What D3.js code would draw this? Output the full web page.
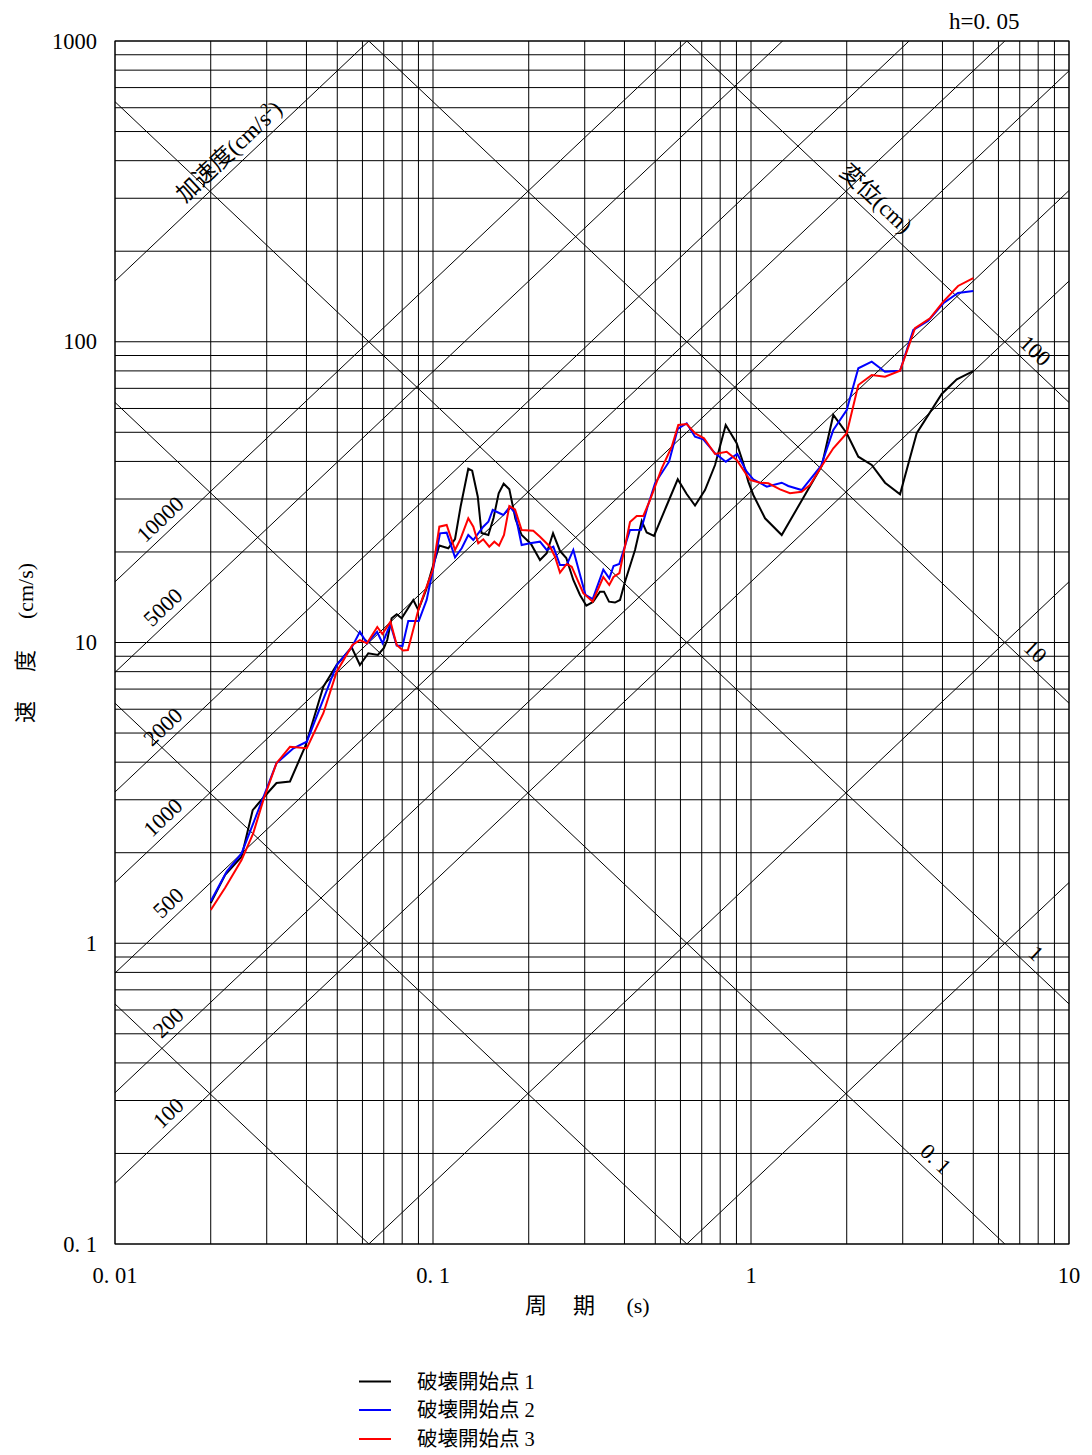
<!DOCTYPE html>
<html><head><meta charset="utf-8">
<script src="https://cdn.jsdelivr.net/npm/d3@7"></script>
<style>
html,body{margin:0;padding:0;background:#fff;}
svg{display:block;}
</style></head>
<body>
<svg id="chart" width="1092" height="1455"></svg>
<script>
// ---------------- data ----------------
const periodsBlack = [0.0200,0.0222,0.0250,0.0271,0.0289,0.0322,0.0355,0.0397,0.0452,0.0498,0.0555,0.0589,0.0626,0.0671,0.0701,0.0718,0.0741,0.0769,0.0797,0.0867,0.0899,0.0951,0.0991,0.1047,0.1117,0.1173,0.1221,0.1291,0.1328,0.1383,0.1421,0.1493,0.1550,0.1609,0.1668,0.1738,0.1817,0.1900,0.2033,0.2170,0.2278,0.2385,0.2508,0.2625,0.2762,0.2899,0.3035,0.3185,0.3351,0.3449,0.3577,0.3735,0.3873,0.4016,0.4318,0.4533,0.4699,0.4955,0.5406,0.5883,0.6277,0.6668,0.7167,0.7707,0.8327,0.9016,0.9458,0.9806,1.017,1.107,1.249,1.669,1.815,2.000,2.175,2.397,2.639,2.942,3.320,3.979,4.437,5.0];
const velocityBlack = [1.36,1.69,1.94,2.77,3.00,3.41,3.45,4.53,7.13,8.42,9.63,8.42,9.21,9.09,9.59,10.19,12.04,12.41,12.04,13.85,12.83,14.95,17.42,21.02,20.57,22.08,28.28,37.81,37.26,30.53,23.12,22.77,25.94,31.34,33.73,32.33,25.74,22.77,21.26,18.80,19.80,23.07,20.15,19.10,16.14,14.39,13.25,13.64,14.76,14.76,13.67,13.58,13.85,15.93,20.31,25.35,23.21,22.60,28.22,34.9,31.17,28.54,32.14,38.92,52.88,45.96,39.44,34.25,30.94,25.88,22.77,38.63,57.09,49.62,41.48,38.92,33.99,31.10,49.62,67.04,75.03,79.92];

const periodsBlue = [0.0200,0.02245,0.0250,0.0296,0.0322,0.0364,0.0401,0.0498,0.0555,0.0589,0.0620,0.0667,0.0694,0.0734,0.0769,0.0802,0.0836,0.0902,0.0955,0.1002,0.1052,0.1104,0.1173,0.1231,0.1291,0.1339,0.1439,0.1493,0.1541,0.1664,0.1746,0.1811,0.1900,0.2018,0.2170,0.2278,0.2390,0.2508,0.2633,0.2762,0.3017,0.3178,0.3432,0.3584,0.3697,0.3853,0.4164,0.4510,0.4726,0.4991,0.5524,0.5883,0.6277,0.6668,0.7079,0.7707,0.8333,0.9056,0.9694,1.017,1.121,1.249,1.310,1.443,1.660,1.815,2.000,2.175,2.397,2.639,2.942,3.239,3.610,4.025,4.478,5.0];
const velocityBlue = [1.38,1.73,1.99,3.15,3.97,4.45,4.68,8.42,9.63,10.86,9.94,10.86,9.94,11.52,9.77,9.74,11.79,11.79,13.85,17.65,23.07,23.18,19.20,20.57,22.77,21.92,24.27,25.21,27.58,26.54,28.28,26.95,21.10,21.37,21.64,20.31,20.82,18.10,18.10,20.31,14.39,13.95,17.46,16.35,17.96,18.24,23.66,23.72,28.22,33.83,39.92,51.28,53.57,48.34,47.39,42.57,39.92,42.35,36.98,34.88,32.96,33.99,33.14,32.14,38.63,50.89,59.31,81.60,85.84,79.50,80.11,109.4,117.5,134.3,145.3,147.5];

const periodsRed = [0.0200,0.0222,0.0250,0.0272,0.0293,0.0322,0.0355,0.0401,0.0452,0.0498,0.0558,0.0589,0.0620,0.0668,0.0693,0.0735,0.0769,0.0805,0.0834,0.0899,0.0955,0.0998,0.1047,0.1104,0.1173,0.1216,0.1291,0.1339,0.1388,0.1439,0.1503,0.1559,0.1613,0.1672,0.1738,0.1811,0.1900,0.2067,0.2170,0.2334,0.2419,0.2508,0.2633,0.2730,0.2969,0.3178,0.3432,0.3584,0.3695,0.3857,0.4164,0.4372,0.4585,0.4813,0.5240,0.5633,0.5908,0.6277,0.6668,0.7116,0.7707,0.8388,0.9016,0.9929,1.067,1.134,1.234,1.326,1.443,1.532,1.669,1.815,2.000,2.175,2.397,2.639,2.942,3.279,3.655,4.025,4.478,5.0];
const velocityRed = [1.29,1.53,1.89,2.32,3.00,3.97,4.50,4.45,5.82,8.00,9.81,10.19,9.94,11.26,10.67,11.73,9.81,9.41,9.44,12.83,15.33,17.42,24.27,24.59,20.31,21.92,25.88,24.27,21.37,22.03,20.82,21.64,20.99,22.77,28.43,27.72,23.66,23.53,22.48,20.82,19.29,17.06,18.24,17.87,14.58,13.67,16.51,15.53,16.51,17.02,25.16,26.34,26.34,29.77,37.95,44.78,52.88,53.29,49.62,47.76,42.35,43.09,40.44,34.70,33.99,33.83,32.31,31.34,31.72,33.39,38.63,44.23,49.62,71.82,77.54,76.54,80.11,110.9,119.7,135.9,153.3,162.9];

const seriesNames = ["破壊開始点 1","破壊開始点 2","破壊開始点 3"];
const seriesColors = ["#000000","#0000ff","#ff0000"];

const accelLineValues = [1,10,100,200,500,1000,2000,5000,10000,100000];   // cm/s^2
const dispLineValues = [0.001,0.01,0.1,1,10,100];                         // cm
const accelLabelValues = [10000,5000,2000,1000,500,200,100];
const accelLabelTexts = ["10000","5000","2000","1000","500","200","100"];
const dispLabelValues = [100,10,1,0.1];
const dispLabelTexts = ["100","10","1","0. 1"];

const xTickValues = [0.01,0.1,1,10];
const xTickLabels = ["0. 01","0. 1","1","10"];
const yTickValues = [0.1,1,10,100,1000];
const yTickLabels = ["0. 1","1","10","100","1000"];
const dampingLabel = "h=0. 05";

// ---------------- layout ----------------
const M = {left:115, right:1069, top:41, bottom:1244};
const accelLabelAt = [0.0149,0.0152,0.0152,0.0152,0.0158,0.0158,0.0158];  // period where label sits
const dispLabelAt = [7.29,7.29,7.34,3.55];
const FONT = "'Liberation Serif','Noto Sans CJK JP',serif";
const CJK = "'Noto Sans CJK JP','Liberation Serif',sans-serif";

const x = d3.scaleLog().domain([0.01,10]).range([M.left,M.right]);
const y = d3.scaleLog().domain([0.1,1000]).range([M.bottom,M.top]);
const TWO_PI = 2*Math.PI;

const svg = d3.select("#chart");
svg.append("rect").attr("width",1092).attr("height",1455).attr("fill","#fff");
svg.append("defs").append("clipPath").attr("id","plotclip")
  .append("rect").attr("x",M.left).attr("y",M.top)
  .attr("width",M.right-M.left).attr("height",M.bottom-M.top);

function logGrid(lo, hi){
  const out=[];
  for(let e=Math.round(Math.log10(lo)); e<Math.round(Math.log10(hi)); e++)
    for(let m=1;m<10;m++) out.push(m*Math.pow(10,e));
  out.push(hi);
  return out;
}

const grid = svg.append("g").attr("stroke","#000").attr("stroke-width",1).attr("fill","none");
logGrid(0.01,10).forEach(t=>{
  grid.append("line").attr("x1",x(t)).attr("x2",x(t)).attr("y1",M.top).attr("y2",M.bottom);
});
logGrid(0.1,1000).forEach(v=>{
  grid.append("line").attr("y1",y(v)).attr("y2",y(v)).attr("x1",M.left).attr("x2",M.right);
});

// tripartite diagonals
const diag = svg.append("g").attr("clip-path","url(#plotclip)").attr("stroke","#000").attr("stroke-width",1).attr("fill","none");
const T0 = 0.01, T1 = 10;
accelLineValues.forEach(a=>{
  diag.append("line").attr("x1",x(T0)).attr("y1",y(a*T0/TWO_PI)).attr("x2",x(T1)).attr("y2",y(a*T1/TWO_PI));
});
dispLineValues.forEach(d=>{
  diag.append("line").attr("x1",x(T0)).attr("y1",y(TWO_PI*d/T0)).attr("x2",x(T1)).attr("y2",y(TWO_PI*d/T1));
});

// frame
svg.append("rect").attr("x",M.left).attr("y",M.top).attr("width",M.right-M.left).attr("height",M.bottom-M.top)
  .attr("fill","none").attr("stroke","#000").attr("stroke-width",1);

// angle of diagonals on screen
const ang = Math.atan2(y(1)-y(10), x(10)-x(1))*180/Math.PI;

// accel labels
accelLabelValues.forEach((a,i)=>{
  const t = accelLabelAt[i];
  svg.append("text").attr("transform",`translate(${x(t)},${y(a*t/TWO_PI)}) rotate(${-ang})`)
    .attr("y",-7).attr("text-anchor","middle").attr("font-family",FONT).attr("font-size",22)
    .text(accelLabelTexts[i]);
});
{
  const t = 0.0247, a = 100000;
  const g = svg.append("text").attr("transform",`translate(${x(t)},${y(a*t/TWO_PI)}) rotate(${-ang})`)
    .attr("y",-8).attr("text-anchor","middle").attr("font-family",FONT).attr("font-size",23);
  g.append("tspan").attr("font-family",CJK).text("加速度");
  g.append("tspan").text("(cm/s");
  g.append("tspan").attr("dy",-9).attr("font-size",15).text("2");
  g.append("tspan").attr("dy",9).text(")");
}
// displacement labels
dispLabelValues.forEach((d,i)=>{
  const t = dispLabelAt[i];
  svg.append("text").attr("transform",`translate(${x(t)},${y(TWO_PI*d/t)}) rotate(${ang})`)
    .attr("y",-7).attr("text-anchor","middle").attr("font-family",FONT).attr("font-size",22)
    .text(dispLabelTexts[i]);
});
{
  const t = 2.29, d = 100;
  const g = svg.append("text").attr("transform",`translate(${x(t)},${y(TWO_PI*d/t)}) rotate(${ang})`)
    .attr("y",-8).attr("text-anchor","middle").attr("font-family",FONT).attr("font-size",23);
  g.append("tspan").attr("font-family",CJK).text("変位");
  g.append("tspan").text("(cm)");
}

// series
const line = d3.line().x(d=>x(d[0])).y(d=>y(d[1]));
const series = [
  d3.zip(periodsBlack, velocityBlack),
  d3.zip(periodsBlue, velocityBlue),
  d3.zip(periodsRed, velocityRed)
];
const sg = svg.append("g").attr("clip-path","url(#plotclip)");
series.forEach((s,i)=>{
  sg.append("path").attr("d",line(s)).attr("fill","none").attr("stroke",seriesColors[i])
    .attr("stroke-width",2).attr("stroke-linejoin","miter");
});

// tick labels
xTickValues.forEach((t,i)=>{
  svg.append("text").attr("x",x(t)).attr("y",M.bottom+39).attr("text-anchor","middle")
    .attr("font-family",FONT).attr("font-size",22.5).text(xTickLabels[i]);
});
yTickValues.forEach((v,i)=>{
  svg.append("text").attr("x",M.left-18).attr("y",y(v)).attr("dy","0.34em").attr("text-anchor","end")
    .attr("font-family",FONT).attr("font-size",22.5).text(yTickLabels[i]);
});

// axis titles
const xt = [["周",536],["期",584],["(s)",638]];
xt.forEach(([s,cx])=>{
  svg.append("text").attr("x",cx).attr("y",1313).attr("text-anchor","middle")
    .attr("font-family",FONT).attr("font-size",22).text(s);
});
const yt = [["速",712],["度",661],["(cm/s)",591]];
yt.forEach(([s,cy])=>{
  svg.append("text").attr("transform",`translate(33,${cy}) rotate(-90)`).attr("text-anchor","middle")
    .attr("font-family",FONT).attr("font-size",22).text(s);
});

// damping
svg.append("text").attr("x",949).attr("y",29).attr("font-family",FONT).attr("font-size",23).text(dampingLabel);

// legend
const legendY = [1381.5,1410,1439];
seriesNames.forEach((n,i)=>{
  svg.append("line").attr("x1",359).attr("x2",391).attr("y1",legendY[i]).attr("y2",legendY[i])
    .attr("stroke",seriesColors[i]).attr("stroke-width",2);
  svg.append("text").attr("x",417).attr("y",legendY[i]).attr("dy","0.36em")
    .attr("font-family",FONT).attr("font-size",20.5).text(n);
});
</script>
</body></html>
